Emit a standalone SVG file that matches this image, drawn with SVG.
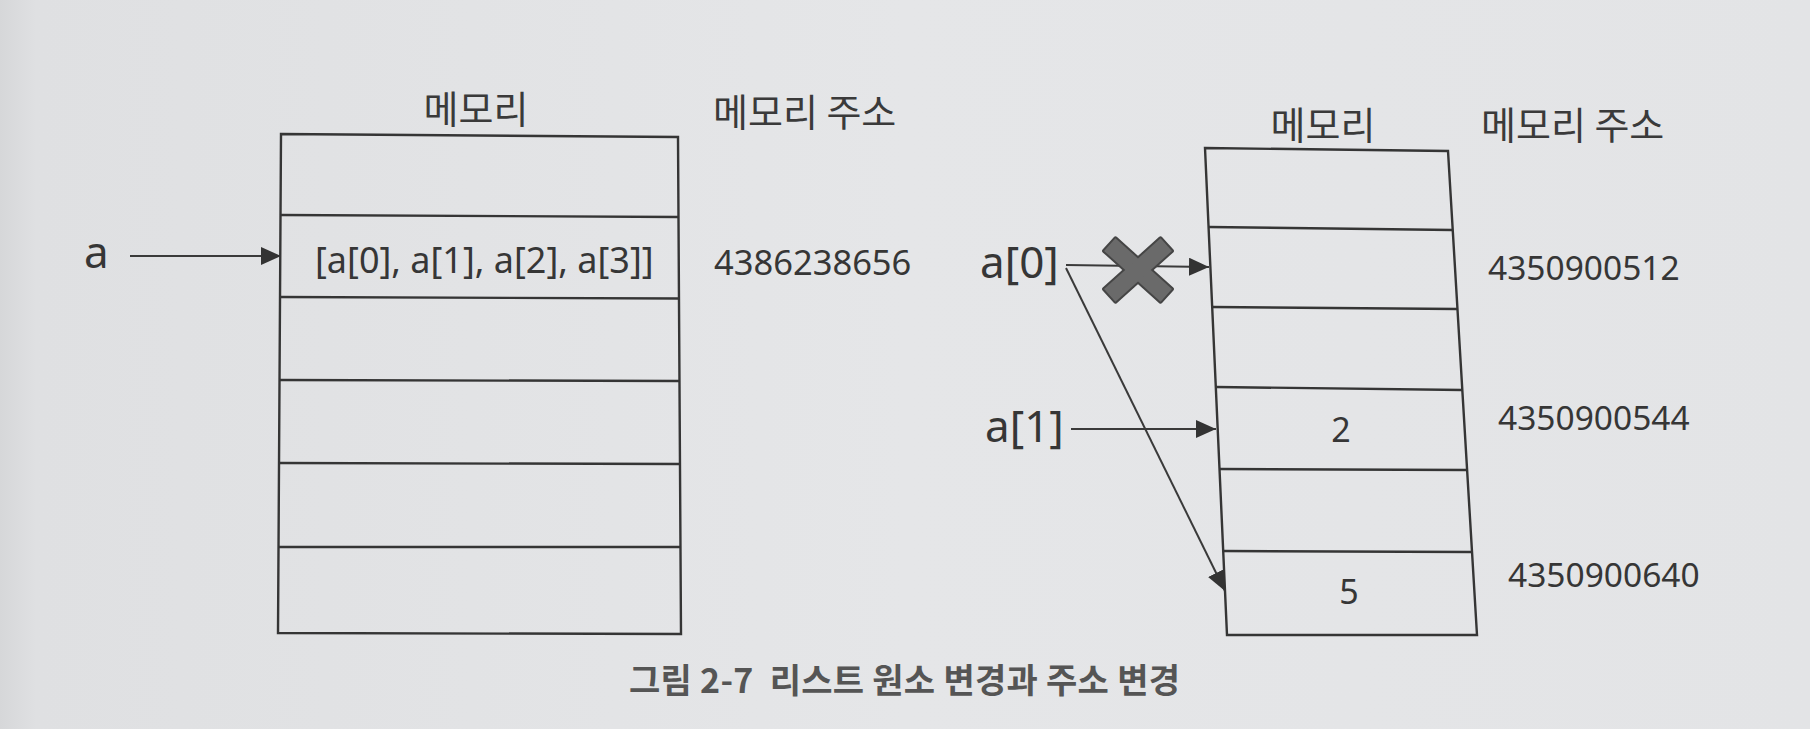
<svg xmlns="http://www.w3.org/2000/svg" width="1810" height="729" viewBox="0 0 1810 729">
<style>
.ko{font-family:"Noto Sans CJK KR","Noto Sans",sans-serif;fill:#3a3a3a;font-size:38px}
.lat{font-family:"Noto Sans","Liberation Sans",sans-serif;fill:#363636}
.cell{fill:none;stroke:#353535;stroke-width:2.4}
.conn{stroke:#3a3a3a;stroke-width:2;fill:none}
.cap{font-family:"Noto Sans CJK KR","Noto Sans",sans-serif;font-weight:bold;fill:#555;font-size:34px}
</style>
<defs>
<linearGradient id="bg" x1="0" y1="0" x2="1" y2="0">
<stop offset="0" stop-color="#d6d7d9"/>
<stop offset="0.02" stop-color="#dfe0e2"/>
<stop offset="0.5" stop-color="#e5e6e8"/>
<stop offset="1" stop-color="#e3e4e6"/>
</linearGradient>
<marker id="ah" viewBox="0 0 20 18" refX="20" refY="9" markerWidth="20" markerHeight="18" markerUnits="userSpaceOnUse" orient="auto">
<path d="M0,0 L20,9 L0,18 z" fill="#333"/>
</marker>
</defs>
<rect width="1810" height="729" fill="url(#bg)"/>

<g id="left-memory">
<text class="ko" x="476" y="123" text-anchor="middle">메모리</text>
<polygon class="cell" points="281,134 678,137 681,634 278,633"/>
<line class="cell" x1="280.5" y1="215" x2="678.5" y2="217"/>
<line class="cell" x1="280" y1="297" x2="679" y2="298.5"/>
<line class="cell" x1="279.5" y1="380" x2="679.5" y2="381"/>
<line class="cell" x1="279" y1="463" x2="680" y2="464"/>
<line class="cell" x1="278.5" y1="547" x2="680.5" y2="547"/>
<text class="lat" x="315" y="273" font-size="36">[a[0], a[1], a[2], a[3]]</text>
</g>

<g id="left-address">
<text class="ko" x="713" y="126">메모리 주소</text>
<text class="lat" x="714" y="275" font-size="34.5">4386238656</text>
</g>

<g id="left-var-a">
<text class="lat" x="84" y="268" font-size="44">a</text>
</g>

<g id="right-memory">
<text class="ko" x="1323" y="139" text-anchor="middle">메모리</text>
<polygon class="cell" points="1205,148 1448,151 1477,635 1227,635"/>
<line class="cell" x1="1208.6" y1="227" x2="1452.7" y2="230"/>
<line class="cell" x1="1212.2" y1="307" x2="1457.5" y2="309"/>
<line class="cell" x1="1215.8" y1="387" x2="1462.3" y2="390"/>
<line class="cell" x1="1219.5" y1="469" x2="1467.1" y2="470"/>
<line class="cell" x1="1223.2" y1="551" x2="1472" y2="552"/>
<text class="lat" x="1341" y="442" font-size="34" text-anchor="middle">2</text>
<text class="lat" x="1349" y="604" font-size="34" text-anchor="middle">5</text>
</g>

<g id="right-address">
<text class="ko" x="1481" y="139">메모리 주소</text>
<text class="lat" x="1488" y="280" font-size="33.5">4350900512</text>
<text class="lat" x="1498" y="430" font-size="33.5">4350900544</text>
<text class="lat" x="1508" y="587" font-size="33.5">4350900640</text>
</g>

<g id="right-var-a0">
<text class="lat" x="980" y="278" font-size="44">a[0]</text>
</g>
<g id="right-var-a1">
<text class="lat" x="985" y="442" font-size="44">a[1]</text>
</g>

<g id="connectors">
<line class="conn" x1="130" y1="256" x2="281" y2="256" marker-end="url(#ah)"/>
<line class="conn" x1="1066" y1="265" x2="1209" y2="267" marker-end="url(#ah)"/>
<line class="conn" x1="1071" y1="429" x2="1216" y2="429" marker-end="url(#ah)"/>
<line class="conn" x1="1066" y1="268" x2="1225" y2="591" marker-end="url(#ah)"/>
</g>

<g id="cross-mark" transform="translate(1138,270)">
<g fill="#505050" stroke="#454545" stroke-width="4" stroke-linejoin="round">
<rect x="-38" y="-8.5" width="76" height="17" transform="rotate(42)"/>
<rect x="-38" y="-8.5" width="76" height="17" transform="rotate(-42)"/>
</g>
<g fill="#6a6a6a">
<rect x="-38" y="-8.5" width="76" height="17" transform="rotate(42)"/>
<rect x="-38" y="-8.5" width="76" height="17" transform="rotate(-42)"/>
</g>
</g>

<g id="caption">
<text class="cap" x="629" y="693" xml:space="preserve" textLength="551" lengthAdjust="spacing">그림 2-7  리스트 원소 변경과 주소 변경</text>
</g>
</svg>
